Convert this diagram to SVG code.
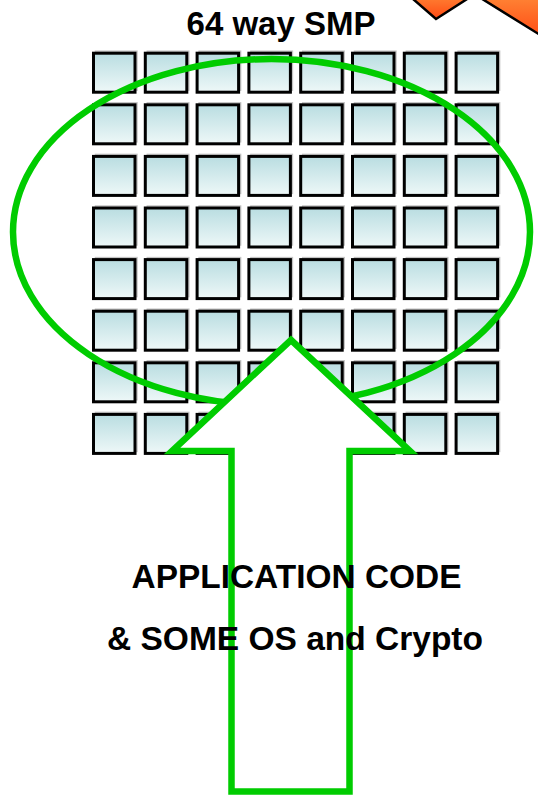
<svg xmlns="http://www.w3.org/2000/svg" width="538" height="795" viewBox="0 0 538 795">
<defs>
<linearGradient id="sq" x1="0" y1="0" x2="0" y2="1">
<stop offset="0" stop-color="#b9dde1"/>
<stop offset="1" stop-color="#eef8f8"/>
</linearGradient>
<linearGradient id="org" x1="0" y1="0" x2="0" y2="1">
<stop offset="0" stop-color="#ff8a38"/>
<stop offset="1" stop-color="#ff4a14"/>
</linearGradient>
<g id="cell">
<rect x="2" y="-2" width="41.5" height="39" fill="none" stroke="#c4c4c4" stroke-width="1.5"/>
<rect x="0" y="0" width="41.5" height="39" fill="url(#sq)" stroke="#000" stroke-width="3"/>
</g>
</defs>
<style>
.t{font-family:"Liberation Sans",Arial,sans-serif;font-weight:bold;fill:#000;}
.g{fill:none;stroke:#00cc00;stroke-width:6.5;}
</style>
<rect width="538" height="795" fill="#fff"/>
<g id="orange-arrow">
<polygon points="405,-8 436,19 478,-8" fill="url(#org)" stroke="#000" stroke-width="2.5"/>
<polygon points="471,-8 545,38 545,-8" fill="url(#org)" stroke="#000" stroke-width="2.5"/>
</g>
<g id="title"><text class="t" x="281" y="35" font-size="33" text-anchor="middle">64 way SMP</text></g>
<g id="smp-grid">
<use href="#cell" x="93.5" y="53.2"/><use href="#cell" x="145.3" y="53.2"/><use href="#cell" x="197.1" y="53.2"/><use href="#cell" x="248.9" y="53.2"/><use href="#cell" x="300.7" y="53.2"/><use href="#cell" x="352.5" y="53.2"/><use href="#cell" x="404.3" y="53.2"/><use href="#cell" x="456.1" y="53.2"/>
<use href="#cell" x="93.5" y="104.8"/><use href="#cell" x="145.3" y="104.8"/><use href="#cell" x="197.1" y="104.8"/><use href="#cell" x="248.9" y="104.8"/><use href="#cell" x="300.7" y="104.8"/><use href="#cell" x="352.5" y="104.8"/><use href="#cell" x="404.3" y="104.8"/><use href="#cell" x="456.1" y="104.8"/>
<use href="#cell" x="93.5" y="156.4"/><use href="#cell" x="145.3" y="156.4"/><use href="#cell" x="197.1" y="156.4"/><use href="#cell" x="248.9" y="156.4"/><use href="#cell" x="300.7" y="156.4"/><use href="#cell" x="352.5" y="156.4"/><use href="#cell" x="404.3" y="156.4"/><use href="#cell" x="456.1" y="156.4"/>
<use href="#cell" x="93.5" y="208"/><use href="#cell" x="145.3" y="208"/><use href="#cell" x="197.1" y="208"/><use href="#cell" x="248.9" y="208"/><use href="#cell" x="300.7" y="208"/><use href="#cell" x="352.5" y="208"/><use href="#cell" x="404.3" y="208"/><use href="#cell" x="456.1" y="208"/>
<use href="#cell" x="93.5" y="259.6"/><use href="#cell" x="145.3" y="259.6"/><use href="#cell" x="197.1" y="259.6"/><use href="#cell" x="248.9" y="259.6"/><use href="#cell" x="300.7" y="259.6"/><use href="#cell" x="352.5" y="259.6"/><use href="#cell" x="404.3" y="259.6"/><use href="#cell" x="456.1" y="259.6"/>
<use href="#cell" x="93.5" y="311.2"/><use href="#cell" x="145.3" y="311.2"/><use href="#cell" x="197.1" y="311.2"/><use href="#cell" x="248.9" y="311.2"/><use href="#cell" x="300.7" y="311.2"/><use href="#cell" x="352.5" y="311.2"/><use href="#cell" x="404.3" y="311.2"/><use href="#cell" x="456.1" y="311.2"/>
<use href="#cell" x="93.5" y="362.8"/><use href="#cell" x="145.3" y="362.8"/><use href="#cell" x="197.1" y="362.8"/><use href="#cell" x="248.9" y="362.8"/><use href="#cell" x="300.7" y="362.8"/><use href="#cell" x="352.5" y="362.8"/><use href="#cell" x="404.3" y="362.8"/><use href="#cell" x="456.1" y="362.8"/>
<use href="#cell" x="93.5" y="414.4"/><use href="#cell" x="145.3" y="414.4"/><use href="#cell" x="197.1" y="414.4"/><use href="#cell" x="248.9" y="414.4"/><use href="#cell" x="300.7" y="414.4"/><use href="#cell" x="352.5" y="414.4"/><use href="#cell" x="404.3" y="414.4"/><use href="#cell" x="456.1" y="414.4"/>
</g>
<g id="ellipse"><ellipse class="g" cx="271.5" cy="232" rx="258.5" ry="173"/></g>
<g id="green-arrow"><polygon class="g" style="fill:#fff" points="291,340 410,451 349.5,451 349.5,791.5 231.5,791.5 231.5,451 172,451"/></g>
<g id="labels">
<text class="t" x="131.5" y="588" font-size="33" textLength="330" lengthAdjust="spacingAndGlyphs">APPLICATION CODE</text>
<text class="t" x="107" y="650" font-size="33" textLength="376" lengthAdjust="spacingAndGlyphs">&amp; SOME OS and Crypto</text>
</g>
</svg>
